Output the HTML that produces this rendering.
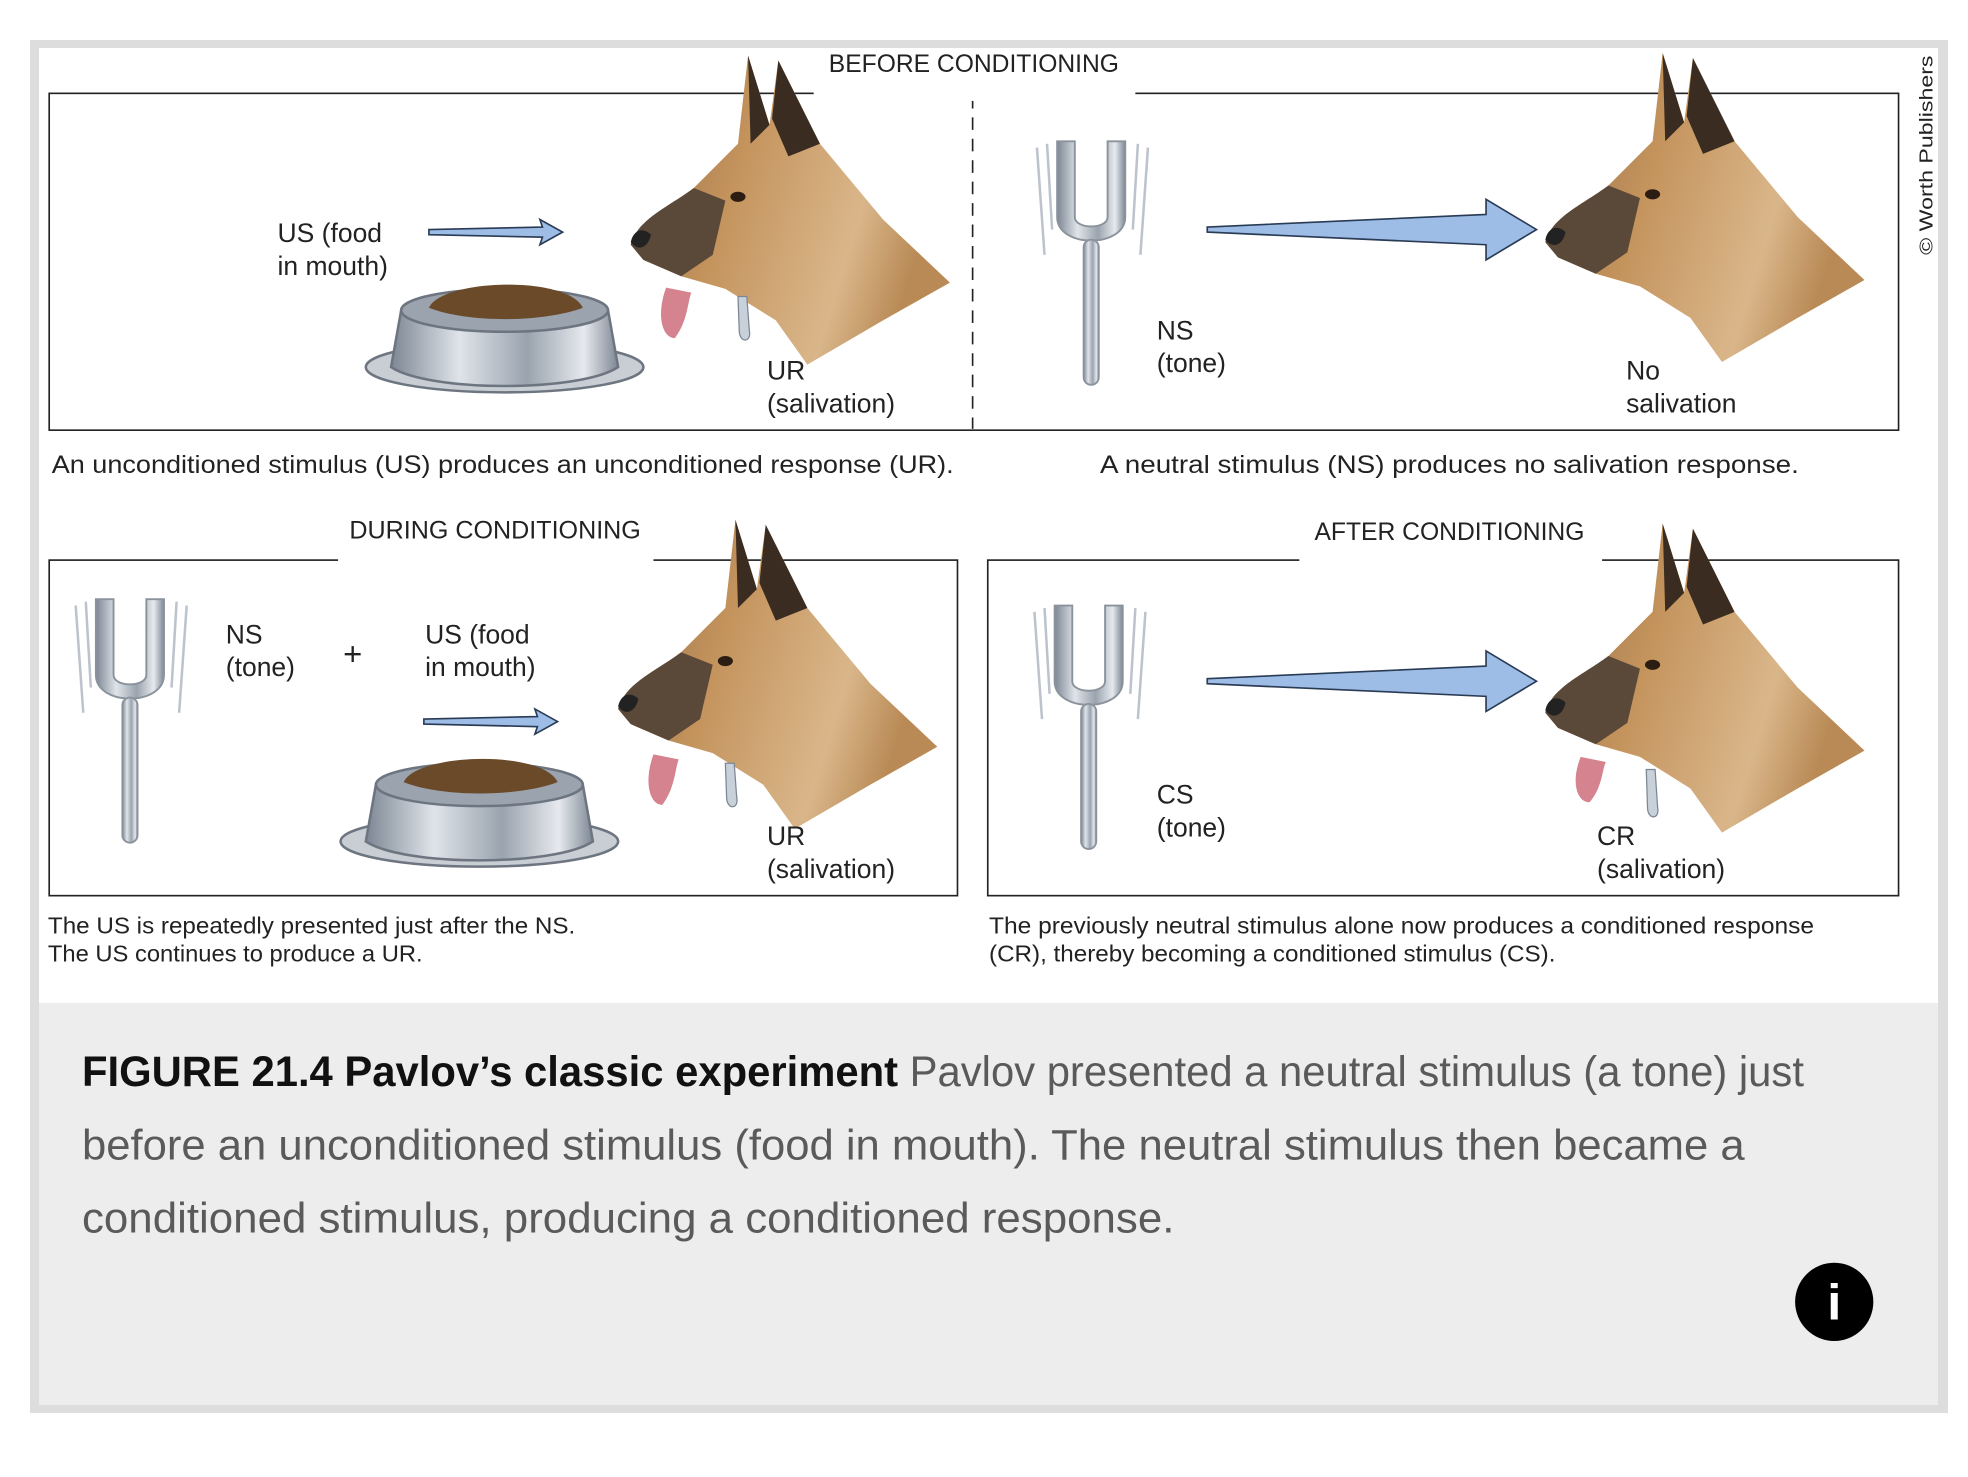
<!DOCTYPE html>
<html><head><meta charset="utf-8"><style>
html,body{margin:0;padding:0;background:#fff;width:1968px;height:1477px;overflow:hidden}
svg{display:block}
text{font-family:"Liberation Sans Narrow","Liberation Sans",sans-serif}
</style></head><body>
<svg width="1968" height="1477" viewBox="0 0 1968 1477">
<defs>
<linearGradient id="fur" x1="0" y1="0" x2="1" y2="0.3">
<stop offset="0" stop-color="#8a6a4a"/><stop offset="0.4" stop-color="#c4935c"/><stop offset="0.8" stop-color="#d9b68a"/><stop offset="1" stop-color="#b98a55"/></linearGradient>
<linearGradient id="steel" x1="0" y1="0" x2="1" y2="0">
<stop offset="0" stop-color="#7d8794"/><stop offset="0.3" stop-color="#dfe4ea"/><stop offset="0.6" stop-color="#9aa3ae"/><stop offset="0.85" stop-color="#e6e9ee"/><stop offset="1" stop-color="#7d8794"/></linearGradient>
<g id="dog">
<path d="M0,0 C5,-20 30,-30 50,-45 L85,-80 L93,-150 L110,-95 L117,-146 L150,-80 L200,-20 L253,30 L200,60 L140,95 L115,60 L75,35 L40,25 L10,12 Z" fill="url(#fur)"/>
<path d="M93,-150 L110,-95 L95,-80 Z M117,-146 L150,-80 L125,-70 L112,-100 Z" fill="#3a2c20"/>
<path d="M0,0 C5,-20 30,-30 50,-45 L75,-35 L65,8 L40,25 L10,12 Z" fill="#5a4838"/>
<path d="M0,-2 C2,-12 10,-14 16,-8 C14,2 6,6 0,-2Z" fill="#222"/>
<ellipse cx="85" cy="-38" rx="6" ry="4" fill="#2b1d12"/>
</g>
<g id="fork">
<path d="M18,0 L18,60 C18,85 72,85 72,60 L72,0 L58,0 L58,60 C58,70 32,70 32,60 L32,0 Z" fill="url(#steel)" stroke="#8a929c" stroke-width="1.5"/>
<rect x="39" y="78" width="12" height="115" rx="6" fill="url(#steel)" stroke="#8a929c" stroke-width="1.5"/>
<path d="M2,5 L8,90 M10,2 L14,70 M82,2 L78,70 M90,5 L84,90" stroke="#bcc3cc" stroke-width="2" fill="none"/>
</g>
<g id="bowl">
<ellipse cx="0" cy="35" rx="110" ry="20" fill="#c9ced5" stroke="#6d7580" stroke-width="2"/>
<path d="M-82,-10 L-90,35 C-60,55 60,55 90,35 L82,-10 Z" fill="url(#steel)" stroke="#6d7580" stroke-width="2"/>
<ellipse cx="0" cy="-10" rx="82" ry="17" fill="#9aa3ae" stroke="#6d7580" stroke-width="2"/>
<path d="M-60,-12 C-50,-35 50,-38 62,-12 C30,0 -30,0 -60,-12Z" fill="#6b4a2a"/>
</g>
</defs>
<rect x="30" y="40" width="1918" height="1373" fill="#ddd"/>
<rect x="39" y="48" width="1899" height="955" fill="#fff"/>
<rect x="39" y="1003" width="1899" height="402" fill="#ededed"/>
<g transform="scale(1.2615)">
<rect x="39" y="74" width="1466" height="267" fill="none" stroke="#222" stroke-width="1.3"/>
<line x1="771" y1="76" x2="771" y2="340" stroke="#222" stroke-width="1.3" stroke-dasharray="10,7"/>
<rect x="39" y="444" width="720" height="266" fill="none" stroke="#222" stroke-width="1.3"/>
<rect x="783" y="444" width="722" height="266" fill="none" stroke="#222" stroke-width="1.3"/>
<rect x="645" y="60" width="255" height="20" fill="#fff"/>
<rect x="268" y="430" width="250" height="20" fill="#fff"/>
<rect x="1030" y="430" width="240" height="20" fill="#fff"/>
<use href="#bowl" x="400" y="256"/>
<use href="#bowl" x="380" y="632"/>
<use href="#dog" x="500" y="194"/>
<use href="#dog" x="1225" y="192"/>
<use href="#dog" x="490" y="562"/>
<use href="#dog" x="1225" y="565"/>
<path d="M528,228 C520,250 525,268 535,268 C545,255 545,240 548,232Z" fill="#d4838f"/>
<path d="M518,598 C510,620 515,638 525,638 C535,625 535,610 538,602Z" fill="#d4838f"/>
<path d="M1253,600 C1245,620 1250,636 1260,636 C1270,625 1270,610 1273,604Z" fill="#d4838f"/>
<g fill="#c8d0da" stroke="#7d8794">
<path d="M585,235 L592,235 L594,262 C596,272 586,272 586,262Z"/>
<path d="M575,605 L582,605 L584,632 C586,642 576,642 576,632Z"/>
<path d="M1305,610 L1312,610 L1314,640 C1316,650 1306,650 1306,640Z"/>
</g>
<use href="#fork" x="820" y="112"/>
<use href="#fork" x="58" y="475"/>
<use href="#fork" x="818" y="480"/>
<g fill="#9dbde6" stroke="#2a3b55" stroke-width="1.3">
<path d="M340,182 L430,180 L428,174 L446,184 L428,194 L430,188 L340,186Z"/>
<path d="M336,570 L426,568 L424,562 L442,572 L424,582 L426,576 L336,574Z"/>
<path d="M957,180 L1178,170 L1178,158 L1218,182 L1178,206 L1178,194 L957,184Z"/>
<path d="M957,538 L1178,528 L1178,516 L1218,540 L1178,564 L1178,552 L957,542Z"/>
</g>
<g fill="#222" font-size="21">
<text x="657" y="57" font-size="20" textLength="230" lengthAdjust="spacingAndGlyphs">BEFORE CONDITIONING</text>
<text x="277" y="427" font-size="20" textLength="231" lengthAdjust="spacingAndGlyphs">DURING CONDITIONING</text>
<text x="1042" y="428" font-size="20" textLength="214" lengthAdjust="spacingAndGlyphs">AFTER CONDITIONING</text>
<text x="220" y="192">US (food</text><text x="220" y="218">in mouth)</text>
<text x="608" y="301">UR</text><text x="608" y="327">(salivation)</text>
<text x="917" y="269">NS</text><text x="917" y="295">(tone)</text>
<text x="1289" y="301">No</text><text x="1289" y="327">salivation</text>
<text x="179" y="510">NS</text><text x="179" y="536">(tone)</text>
<text x="272" y="527" font-size="26">+</text>
<text x="337" y="510">US (food</text><text x="337" y="536">in mouth)</text>
<text x="608" y="670">UR</text><text x="608" y="696">(salivation)</text>
<text x="917" y="637">CS</text><text x="917" y="663">(tone)</text>
<text x="1266" y="670">CR</text><text x="1266" y="696">(salivation)</text>
<text x="41" y="375" font-size="20" textLength="715" lengthAdjust="spacingAndGlyphs">An unconditioned stimulus (US) produces an unconditioned response (UR).</text>
<text x="872" y="375" font-size="20" textLength="554" lengthAdjust="spacingAndGlyphs">A neutral stimulus (NS) produces no salivation response.</text>
<text x="38" y="740" font-size="18" textLength="418" lengthAdjust="spacingAndGlyphs">The US is repeatedly presented just after the NS.</text>
<text x="38" y="762" font-size="18" textLength="297" lengthAdjust="spacingAndGlyphs">The US continues to produce a UR.</text>
<text x="784" y="740" font-size="18" textLength="654" lengthAdjust="spacingAndGlyphs">The previously neutral stimulus alone now produces a conditioned response</text>
<text x="784" y="762" font-size="18" textLength="449" lengthAdjust="spacingAndGlyphs">(CR), thereby becoming a conditioned stimulus (CS).</text>
<text transform="translate(1532,202) rotate(-90)" font-size="15" textLength="158" lengthAdjust="spacingAndGlyphs">© Worth Publishers</text>
</g>
<g font-size="34" fill="#5a5a5a" font-family="'Liberation Sans',sans-serif">
<text x="65" y="861" textLength="1365" lengthAdjust="spacingAndGlyphs"><tspan fill="#111" font-weight="bold">FIGURE 21.4 Pavlov’s classic experiment</tspan> Pavlov presented a neutral stimulus (a tone) just</text>
<text x="65" y="919" textLength="1318" lengthAdjust="spacingAndGlyphs">before an unconditioned stimulus (food in mouth). The neutral stimulus then became a</text>
<text x="65" y="977" textLength="866" lengthAdjust="spacingAndGlyphs">conditioned stimulus, producing a conditioned response.</text>
</g>
<circle cx="1454" cy="1032" r="31" fill="#000"/>
<text x="1454" y="1046" text-anchor="middle" fill="#fff" font-size="40" font-weight="bold">i</text>
</g>
</svg>
</body></html>
